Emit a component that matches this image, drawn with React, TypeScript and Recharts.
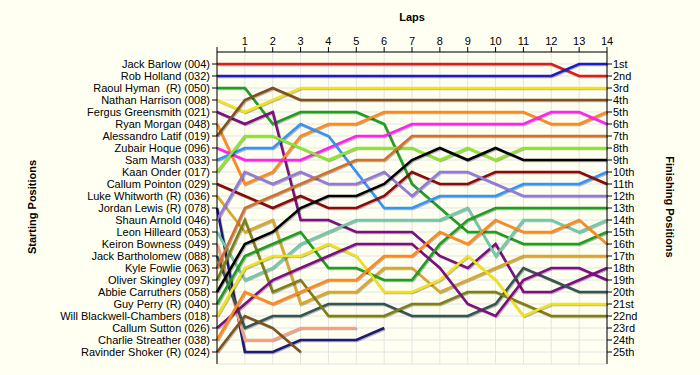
import React from 'react';
import { LineChart, Line, XAxis, YAxis, CartesianGrid } from 'recharts';

const laps = [0, 1, 2, 3, 4, 5, 6, 7, 8, 9, 10, 11, 12, 13, 14];

const drivers = [
  'Jack Barlow (004)', 'Rob Holland (032)', 'Raoul Hyman\u00a0 (R) (050)', 'Nathan Harrison (008)',
  'Fergus Greensmith (021)', 'Ryan Morgan (048)', 'Alessandro Latif (019)', 'Zubair Hoque (096)',
  'Sam Marsh (033)', 'Kaan Onder (017)', 'Callum Pointon (029)', 'Luke Whitworth (R) (036)',
  'Jordan Lewis (R) (078)', 'Shaun Arnold (046)', 'Leon Hilleard (053)', 'Keiron Bowness (049)',
  'Jack Bartholomew (088)', 'Kyle Fowlie (063)', 'Oliver Skingley (097)', 'Abbie Carruthers (058)',
  'Guy Perry (R) (040)', 'Will Blackwell-Chambers (018)', 'Callum Sutton (026)', 'Charlie Streather (038)',
  'Ravinder Shoker (R) (024)',
];

const colors = [
  '#dd1c1c', '#1c1cc8', '#1f9e1f', '#f2e21a', '#7d0f80', '#ff8a1c', '#7f5020', '#ff22f0',
  '#3396f5', '#8ce62a', '#8b0a0a', '#d9a72a', '#1c1c78', '#9379d8', '#70c9a8', '#f2a283',
  '#355555', '#d2712a', '#7f7f14', '#000000', '#1f9e1f', '#f2e21a', '#7d0f80', '#ff8a1c',
  '#7f5020',
];

// position of each driver (same order as drivers) after each lap, lap 0 = grid
const positions = [
  [1, 1, 1, 1, 1, 1, 1, 1, 1, 1, 1, 1, 1, 2, 2],
  [2, 2, 2, 2, 2, 2, 2, 2, 2, 2, 2, 2, 2, 1, 1],
  [3, 3, 6, 5, 5, 5, 6, 11, 13, 15, 15, 16, 16, 16, 15],
  [4, 5, 4, 3, 3, 3, 3, 3, 3, 3, 3, 3, 3, 3, 3],
  [5, 6, 5, 14, 14, 15, 15, 15, 17, 18, 16, 20, 20, 19, 18],
  [6, 11, 10, 7, 6, 6, 5, 5, 5, 5, 5, 5, 6, 6, 5],
  [7, 4, 3, 4, 4, 4, 4, 4, 4, 4, 4, 4, 4, 4, 4],
  [8, 9, 9, 9, 8, 7, 7, 6, 6, 6, 6, 6, 5, 5, 6],
  [9, 8, 8, 6, 7, 10, 13, 13, 12, 12, 12, 11, 11, 11, 10],
  [10, 7, 7, 8, 9, 8, 8, 8, 9, 8, 9, 8, 8, 8, 8],
  [11, 12, 13, 12, 13, 13, 12, 10, 11, 11, 10, 10, 10, 10, 11],
  [12, 15, 14, 21, 20, 20, 18, 18, 20, 19, 18, 17, 17, 17, 17],
  [13, 25, 25, 24, 24, 24, 23],
  [14, 10, 11, 10, 11, 11, 10, 12, 10, 10, 11, 12, 12, 12, 12],
  [15, 19, 18, 16, 15, 14, 14, 14, 14, 13, 17, 14, 14, 15, 14],
  [16, 24, 24, 23, 23, 23],
  [17, 23, 22, 22, 21, 21, 21, 22, 22, 22, 21, 18, 19, 20, 20],
  [18, 13, 12, 11, 10, 9, 9, 7, 7, 7, 7, 7, 7, 7, 7],
  [19, 14, 20, 19, 22, 22, 22, 21, 21, 20, 20, 21, 22, 22, 22],
  [20, 16, 15, 13, 12, 12, 11, 9, 8, 9, 8, 9, 9, 9, 9],
  [21, 17, 16, 15, 18, 18, 19, 19, 16, 14, 13, 13, 13, 13, 13],
  [22, 18, 17, 17, 16, 17, 20, 20, 19, 17, 19, 22, 21, 21, 21],
  [23, 21, 19, 18, 17, 16, 16, 16, 18, 21, 22, 19, 18, 18, 19],
  [24, 20, 21, 20, 19, 19, 17, 17, 15, 16, 14, 15, 15, 14, 16],
  [25, 22, 23, 25],
];

const rowTicks = drivers.map((_, i) => i + 1);

const ordinal = (n: number) => {
  const s = n % 10 === 1 && n !== 11 ? 'st' : n % 10 === 2 && n !== 12 ? 'nd' : n % 10 === 3 && n !== 13 ? 'rd' : 'th';
  return `${n}${s}`;
};

const data = laps.map((lap) => {
  const row: Record<string, number | null> = { lap };
  positions.forEach((p, i) => {
    row[`d${i}`] = p[lap] ?? null;
  });
  return row;
});

const font = '"Liberation Sans", Arial, sans-serif';
const bg = '#fffff2';

const App: React.FC = () => {
  return (
    <div style={{ position: 'relative', width: 700, height: 375, background: bg, fontFamily: font }}>
      <style>{`body{margin:0;background:${bg}} .recharts-line-curve{filter:drop-shadow(1.5px 1.5px 0.6px rgba(0,0,0,0.28))}`}</style>
      <LineChart width={700} height={375} data={data} margin={{ top: 0, right: 0, bottom: 11, left: 0 }}>
        <CartesianGrid yAxisId="left" stroke="#e4e4e4" />
        <XAxis
          dataKey="lap"
          type="number"
          orientation="top"
          domain={[0, 14]}
          ticks={laps}
          interval={0}
          height={52}
          tickSize={5}
          tickMargin={2}
          tickFormatter={(v: number) => (v === 0 ? '' : String(v))}
          stroke="#000"
          tick={{ fill: '#000', fontSize: 11, fontFamily: font }}
        />
        <YAxis
          yAxisId="left"
          type="number"
          domain={[0, 26]}
          reversed
          ticks={rowTicks}
          interval={0}
          width={217}
          tickSize={5}
          tickMargin={2}
          tickFormatter={(v: number) => drivers[v - 1] ?? ''}
          stroke="#000"
          tick={{ fill: '#000', fontSize: 11, fontFamily: font }}
        />
        <YAxis
          yAxisId="right"
          orientation="right"
          type="number"
          domain={[0, 26]}
          reversed
          ticks={rowTicks}
          interval={0}
          width={93}
          tickSize={5}
          tickMargin={1}
          tickFormatter={(v: number) => ordinal(v)}
          stroke="#000"
          tick={{ fill: '#000', fontSize: 11, fontFamily: font, textAnchor: 'start' }}
        />
        <Line yAxisId="right" dataKey="d0" stroke="none" dot={false} isAnimationActive={false} />
        {drivers.map((name, i) => (
          <Line
            key={name}
            yAxisId="left"
            type="linear"
            dataKey={`d${i}`}
            name={name}
            stroke={colors[i]}
            strokeWidth={2.6}
            dot={false}
            activeDot={false}
            connectNulls={false}
            isAnimationActive={false}
          />
        ))}
      </LineChart>
      <svg width={700} height={375} style={{ position: 'absolute', left: 0, top: 0, pointerEvents: 'none' }}>
        <text x={412} y={21} textAnchor="middle" fontSize={11} fontWeight="bold" fontFamily={font} fill="#000">
          Laps
        </text>
        <text x={36} y={207} transform="rotate(-90 36 207)" textAnchor="middle" fontSize={11} fontWeight="bold" fontFamily={font} fill="#000">
          Starting Positions
        </text>
        <text x={666} y={207} transform="rotate(90 666 207)" textAnchor="middle" fontSize={11} fontWeight="bold" fontFamily={font} fill="#000">
          Finishing Positions
        </text>
      </svg>
    </div>
  );
};

export default App;
